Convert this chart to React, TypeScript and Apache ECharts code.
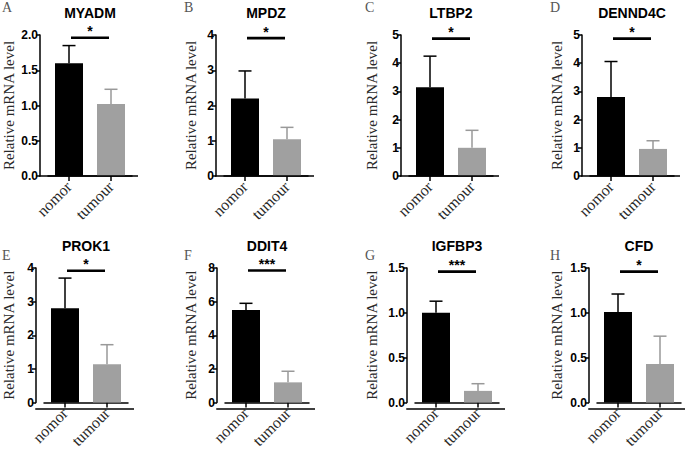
import React, { useEffect, useRef } from "react";
import * as echarts from "echarts";

// ---- data ----
const categories = ["nomor", "tumour"];
const panelLetters = ["A", "B", "C", "D", "E", "F", "G", "H"];
const genes = ["MYADM", "MPDZ", "LTBP2", "DENND4C", "PROK1", "DDIT4", "IGFBP3", "CFD"];
const meanNomor = [1.6, 2.2, 3.15, 2.8, 2.8, 5.5, 1.0, 1.01];
const meanTumour = [1.02, 1.04, 1.0, 0.96, 1.14, 1.2, 0.13, 0.43];
const upperNomor = [1.85, 2.98, 4.25, 4.06, 3.7, 5.9, 1.13, 1.21];
const upperTumour = [1.23, 1.38, 1.62, 1.25, 1.72, 1.86, 0.21, 0.74];
const yMax = [2, 4, 5, 5, 4, 8, 1.5, 1.5];
const yInterval = [0.5, 1, 1, 1, 1, 2, 0.5, 0.5];
const sigLevel = [1.96, 3.91, 4.87, 4.87, 3.92, 7.85, 1.46, 1.46];
const sigMarks = ["*", "*", "*", "*", "*", "***", "***", "*"];
const yTitle = "Relative mRNA level";

// ---- layout ----
const ROW_TOP = [35, 268];
const PLOT_H = 141;
const AXIS_X = [40, 216, 401, 582, 36, 217, 407, 589];
const LETTER_X = [2, 184, 365, 550];
const NAME_CX = [8.5, 190, 371, 556];
const GAP = 8;
const PLOT_W = 84;

const SANS = "Liberation Sans, Arial, sans-serif";
const SERIF = "Liberation Serif, Times New Roman, serif";

function buildOption() {
  const grid: any[] = [];
  const xAxis: any[] = [];
  const yAxis: any[] = [];
  const series: any[] = [];
  const graphic: any[] = [];

  for (let i = 0; i < genes.length; i++) {
    const row = Math.floor(i / 4);
    const col = i % 4;
    const top = ROW_TOP[row];
    const ax = AXIS_X[i];
    const decimals = yInterval[i] < 1 ? 1 : 0;

    grid.push({ left: ax + GAP, top, width: PLOT_W, height: PLOT_H, containLabel: false });

    xAxis.push({
      type: "category",
      gridIndex: i,
      data: categories,
      axisLine: { show: true, lineStyle: { color: "#000", width: 1.5 } },
      axisTick: { show: true, alignWithLabel: true, length: 5, lineStyle: { color: "#000", width: 1.5 } },
      axisLabel: { rotate: 45, margin: 8, interval: 0, fontFamily: SERIF, fontSize: 16, color: "#2a2a2a" },
      splitLine: { show: false },
    });

    yAxis.push({
      type: "value",
      gridIndex: i,
      min: 0,
      max: yMax[i],
      interval: yInterval[i],
      offset: GAP,
      name: yTitle,
      nameLocation: "middle",
      nameGap: ax - NAME_CX[col] - 8,
      nameTextStyle: { fontFamily: SERIF, fontSize: 15, color: "#2a2a2a" },
      axisLine: { show: true, lineStyle: { color: "#000", width: 1.5 } },
      axisTick: { show: true, length: 4, lineStyle: { color: "#000", width: 1.5 } },
      axisLabel: {
        margin: 2,
        fontFamily: SANS,
        fontWeight: "bold",
        fontSize: 12,
        color: "#000",
        formatter: (v: number) => v.toFixed(decimals),
      },
      splitLine: { show: false },
    });

    series.push({
      type: "bar",
      xAxisIndex: i,
      yAxisIndex: i,
      barWidth: 28,
      z: 2,
      data: [
        { value: meanNomor[i], itemStyle: { color: "#000" } },
        { value: meanTumour[i], itemStyle: { color: "#a0a0a0" } },
      ],
    });

    series.push({
      type: "custom",
      xAxisIndex: i,
      yAxisIndex: i,
      z: 3,
      encode: { x: 0, y: [1, 2] },
      data: [
        [0, meanNomor[i], upperNomor[i]],
        [1, meanTumour[i], upperTumour[i]],
      ],
      renderItem: (params: any, api: any) => {
        const idx = api.value(0);
        const b = api.coord([idx, api.value(1)]);
        const t = api.coord([idx, api.value(2)]);
        const color = idx === 0 ? "#000" : "#999";
        return {
          type: "group",
          children: [
            { type: "line", shape: { x1: b[0], y1: b[1], x2: t[0], y2: t[1] }, style: { stroke: color, lineWidth: 1.5 } },
            { type: "line", shape: { x1: t[0] - 6.5, y1: t[1], x2: t[0] + 6.5, y2: t[1] }, style: { stroke: color, lineWidth: 1.5 } },
          ],
        };
      },
    });

    const mark = sigMarks[i];
    series.push({
      type: "custom",
      xAxisIndex: i,
      yAxisIndex: i,
      z: 4,
      encode: { x: 0, y: 2 },
      data: [[0, 1, sigLevel[i]]],
      renderItem: (params: any, api: any) => {
        const lvl = api.value(2);
        const p0 = api.coord([0, lvl]);
        const p1 = api.coord([1, lvl]);
        const cx = (p0[0] + p1[0]) / 2;
        return {
          type: "group",
          children: [
            { type: "line", shape: { x1: p0[0] + 2, y1: p0[1], x2: p1[0] - 2, y2: p1[1] }, style: { stroke: "#000", lineWidth: 2.6 } },
            {
              type: "text",
              x: cx,
              y: p0[1] - 6.5,
              style: { text: mark, fill: "#000", font: `bold 14px ${SANS}`, textAlign: "center", textVerticalAlign: "middle" },
            },
          ],
        };
      },
    });

    // full-length x baseline
    graphic.push({
      type: "line",
      shape: { x1: ax - 0.75, y1: top + PLOT_H, x2: ax + 98, y2: top + PLOT_H },
      style: { stroke: "#000", lineWidth: 1.5 },
      z: 10,
    });
    // title
    graphic.push({
      type: "text",
      x: ax + 50,
      y: top - 22.5,
      style: { text: genes[i], fill: "#000", font: `bold 14px ${SANS}`, textAlign: "center", textVerticalAlign: "middle" },
    });
    // panel letter
    graphic.push({
      type: "text",
      x: LETTER_X[col],
      y: row === 0 ? 0 : 248,
      style: { text: panelLetters[i], fill: "#555", font: `14px ${SERIF}`, textAlign: "left", textVerticalAlign: "top" },
    });
  }

  return { animation: false, backgroundColor: "#fff", grid, xAxis, yAxis, series, graphic };
}

export default function App() {
  const ref = useRef<HTMLDivElement>(null);
  useEffect(() => {
    if (!ref.current) return;
    const chart = echarts.init(ref.current, null, { renderer: "svg" });
    chart.setOption(buildOption() as any);
    return () => chart.dispose();
  }, []);
  return (
    <div
      ref={ref}
      style={{ position: "fixed", left: 0, top: 0, width: 685, height: 451, background: "#fff" }}
    />
  );
}
